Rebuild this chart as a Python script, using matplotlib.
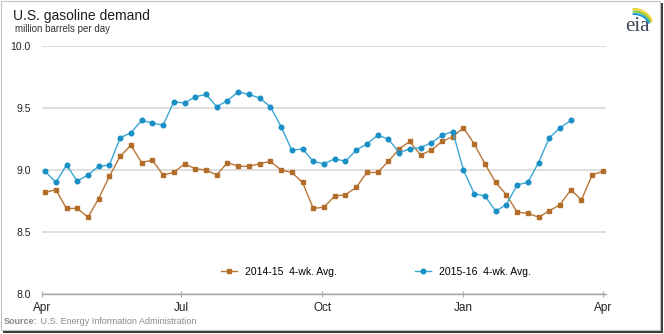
import numpy as np
import pandas as pd
import matplotlib
matplotlib.use("Agg")
import matplotlib.pyplot as plt
from matplotlib import font_manager
from matplotlib.patches import Rectangle

# Weekly 4-week average U.S. gasoline demand (million barrels per day)
weeks = pd.date_range("2015-04-03", periods=53, freq="7D")

demand_2014_15 = [8.82, 8.84, 8.69, 8.69, 8.62, 8.77, 8.95, 9.11, 9.20, 9.06,
                  9.08, 8.96, 8.98, 9.05, 9.01, 9.00, 8.96, 9.06, 9.03, 9.03,
                  9.05, 9.07, 9.00, 8.98, 8.90, 8.69, 8.70, 8.79, 8.80, 8.86,
                  8.98, 8.98, 9.07, 9.17, 9.23, 9.12, 9.16, 9.23, 9.27, 9.34,
                  9.21, 9.05, 8.90, 8.80, 8.66, 8.65, 8.62, 8.67, 8.72, 8.84,
                  8.76, 8.96, 8.99]

demand_2015_16 = [8.99, 8.90, 9.04, 8.91, 8.96, 9.03, 9.04, 9.26, 9.30, 9.40,
                  9.38, 9.36, 9.55, 9.54, 9.59, 9.61, 9.51, 9.56, 9.63, 9.61,
                  9.58, 9.51, 9.35, 9.16, 9.17, 9.07, 9.05, 9.09, 9.07, 9.16,
                  9.21, 9.28, 9.25, 9.14, 9.17, 9.18, 9.22, 9.28, 9.31, 9.00,
                  8.81, 8.79, 8.67, 8.72, 8.88, 8.90, 9.06, 9.26, 9.34, 9.40]

series_labels = ["2014-15  4-wk. Avg.", "2015-16  4-wk. Avg."]
tick_dates = pd.to_datetime(["2015-04-01", "2015-07-01", "2015-10-01",
                             "2016-01-01", "2016-04-01"])
tick_labels = ["Apr", "Jul", "Oct", "Jan", "Apr"]
y_ticks = [8.0, 8.5, 9.0, 9.5, 10.0]

names = {f.name for f in font_manager.fontManager.ttflist}
SANS = "Liberation Sans" if "Liberation Sans" in names else "DejaVu Sans"
NARROW = "Liberation Sans Narrow" if "Liberation Sans Narrow" in names else SANS
SERIF = "Liberation Serif" if "Liberation Serif" in names else "DejaVu Serif"

W, H = 664, 334
fig = plt.figure(figsize=(W / 100, H / 100), dpi=100)

# background layer in pixel coordinates: page frame with drop shadow
bg = fig.add_axes([0, 0, 1, 1], zorder=0)
bg.set_xlim(0, W)
bg.set_ylim(H, 0)
bg.axis("off")
bg.add_patch(Rectangle((3, 3), W - 4, H - 4, facecolor="#3a3a3a", edgecolor="none"))
bg.add_patch(Rectangle((0.5, 0.5), W - 5, H - 5, facecolor="white",
                       edgecolor="#c4c4c4", lw=0.8))

# logo: wordmark with three arcs above it
bg.text(637, 31, "eia", family=SERIF, fontsize=15, color="#3b4757",
        ha="center", va="baseline")
for rx, ry, col in [(19, 19, "#f0d232"), (17.5, 16.5, "#8cc63e"), (16, 14, "#1d9ad6")]:
    t = np.radians(np.linspace(22, 92, 40))
    bg.plot(634 + rx * np.cos(t), 28 - ry * np.sin(t), color=col, lw=1.5,
            solid_capstyle="round")

# main chart
ax = fig.add_axes([42 / W, 1 - 294 / H, (606 - 42) / W, (294 - 46) / H], zorder=2)
ax.patch.set_alpha(0)

ax.plot(weeks, demand_2014_15, color="#b97635", lw=1.0, marker="s", ms=3.0,
        mfc="#b36d2a", mec="#b36d2a", label=series_labels[0], zorder=3)
ax.plot(weeks[:len(demand_2015_16)], demand_2015_16, color="#3aa6d6", lw=1.0,
        marker="o", ms=3.3, mfc="#1a8fc6", mec="#1a8fc6",
        label=series_labels[1], zorder=4)

ax.set_xlim(pd.Timestamp("2015-04-01"), pd.Timestamp("2016-04-03"))
ax.set_ylim(8.0, 10.0)
ax.set_xticks(tick_dates)
ax.set_xticklabels(tick_labels, family=NARROW, fontsize=8.5, color="#222222")
ax.set_yticks(y_ticks)
ax.set_yticklabels([f"{v:.1f}" for v in y_ticks], family=SANS, fontsize=7.5,
                   color="#222222")
ax.tick_params(axis="y", length=0, pad=8)
ax.tick_params(axis="x", direction="inout", length=5, width=0.8,
               color="#a6a6a6", pad=3)
ax.yaxis.grid(True, color="#d9d9d9", lw=1.2)
ax.set_axisbelow(True)
for side in ["top", "right", "left"]:
    ax.spines[side].set_visible(False)
ax.spines["bottom"].set_color("#a6a6a6")
ax.spines["bottom"].set_linewidth(1.0)

ax.legend(loc="center", bbox_to_anchor=(375.5 / W, 1 - 272 / H),
          bbox_transform=fig.transFigure, ncol=2, frameon=False,
          handlelength=1.6, handletextpad=0.7, columnspacing=7.5,
          prop={"family": NARROW, "size": 7.5})

# titles
fig.text(13 / W, 1 - 16 / H, "U.S. gasoline demand", family=SANS, fontsize=10,
         color="#1e1e1e", va="center", ha="left")
fig.text(15 / W, 1 - 29 / H, "million barrels per day", family=SANS,
         fontsize=7, color="#333333", va="center", ha="left")

# source line
src = fig.text(4 / W, 1 - 322 / H, "Source:", family=SANS, fontsize=6.5,
               fontweight="bold", color="#8a8a8a", va="center", ha="left")
bg.annotate(" U.S. Energy Information Administration", xy=(1, 0),
            xycoords=src, va="bottom", ha="left", family=SANS, fontsize=6.5,
            color="#8a8a8a", annotation_clip=False)

fig.savefig("out.png", dpi=100)
